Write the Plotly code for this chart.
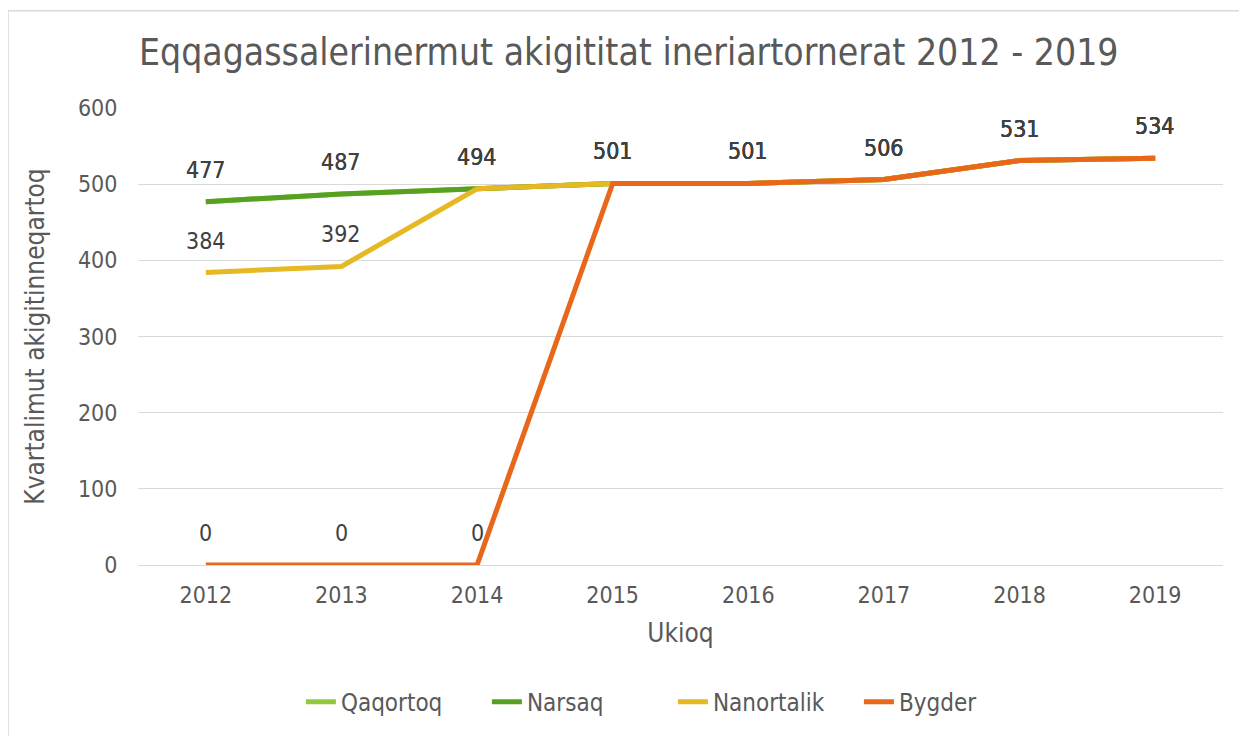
import plotly.graph_objects as go

years = ["2012", "2013", "2014", "2015", "2016", "2017", "2018", "2019"]
qaqortoq = [477, 487, 494, 501, 501, 506, 531, 534]
narsaq = [477, 487, 494, 501, 501, 506, 531, 534]
nanortalik = [384, 392, 494, 501, 501, 506, 531, 534]
bygder = [0, 0, 0, 501, 501, 506, 531, 534]

series = [
    ("Qaqortoq", qaqortoq, "#92C83E"),
    ("Narsaq", narsaq, "#58A021"),
    ("Nanortalik", nanortalik, "#E6B923"),
    ("Bygder", bygder, "#E8671A"),
]

FONT = "DejaVu Sans Condensed, Liberation Sans Narrow, Roboto Condensed, Open Sans, sans-serif"

fig = go.Figure()
for name, vals, col in series:
    fig.add_trace(go.Scatter(
        x=years, y=vals, name=name, mode="lines",
        line=dict(color=col, width=5),
        cliponaxis=False,
    ))
    for i, yv in enumerate(vals):
        fig.add_annotation(x=i, y=yv, xref="x", yref="y", text=str(yv), showarrow=False,
                           yshift=32, xanchor="center", yanchor="middle",
                           font=dict(size=23, color="#404040", family=FONT))

fig.update_layout(
    width=1239, height=728,
    paper_bgcolor="white", plot_bgcolor="white",
    margin=dict(l=130, r=24, t=100, b=164),
    font=dict(family=FONT, color="#595959", size=23),
    title=dict(text="Eqqagassalerinermut akigititat ineriartornerat 2012 - 2019",
               x=0.501, xanchor="center", y=0.9396, yanchor="middle",
               font=dict(size=37, color="#595959", family=FONT)),
    xaxis=dict(type="category", categoryorder="array", categoryarray=years,
               range=[-0.5, len(years) - 0.5],
               showgrid=False, showline=False, zeroline=False,
               tickfont=dict(size=23, color="#595959"),
               ticks="outside", ticklen=9, tickcolor="rgba(0,0,0,0)",
               title=dict(text="Ukioq", font=dict(size=26, color="#595959"), standoff=17)),
    yaxis=dict(range=[0, 600], dtick=100, showgrid=True, gridcolor="#D9D9D9", gridwidth=1,
               zeroline=True, zerolinecolor="#D9D9D9", zerolinewidth=1, showline=False,
               tickfont=dict(size=23, color="#595959"),
               ticks="outside", ticklen=15, tickcolor="rgba(0,0,0,0)",
               title=dict(text="Kvartalimut akigitinneqartoq", font=dict(size=26, color="#595959"), standoff=25)),
    legend=dict(orientation="h", x=0.493, xanchor="center", y=-0.3, yanchor="middle",
                font=dict(size=24, color="#595959"), entrywidth=141, entrywidthmode="pixels",
                traceorder="normal"),
    showlegend=True,
)

fig.add_shape(type="rect", xref="paper", yref="paper",
              x0=-0.1198, x1=1.0212, y0=-0.38, y1=1.2126,
              line=dict(color="#D9D9D9", width=1.5), fillcolor="rgba(0,0,0,0)", layer="below")

fig.write_html("out.html")
